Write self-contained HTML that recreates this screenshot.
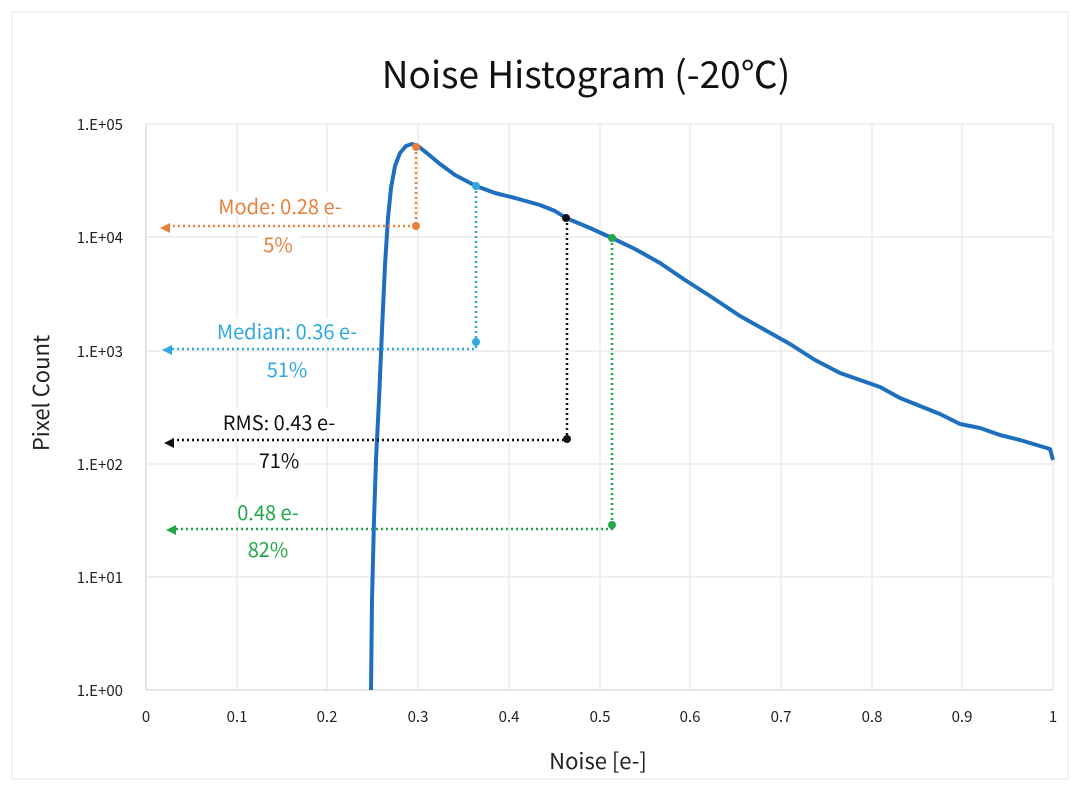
<!DOCTYPE html>
<html><head><meta charset="utf-8"><style>
html,body{margin:0;padding:0;background:#fff;}
svg{display:block;font-family:"Noto Sans CJK JP","Liberation Sans",sans-serif;}
</style></head><body>
<svg width="1080" height="791" viewBox="0 0 1080 791" xmlns="http://www.w3.org/2000/svg">
<rect x="12" y="12" width="1056" height="767" fill="#fff" stroke="#e4e4e4"/>
<text x="586" y="88" font-size="37" text-anchor="middle" fill="#111">Noise Histogram (-20℃)</text>
<g stroke="#e2e2e2" stroke-width="1">
<line x1="146" y1="124" x2="1053" y2="124"/><line x1="146" y1="237" x2="1053" y2="237"/>
<line x1="146" y1="351" x2="1053" y2="351"/><line x1="146" y1="464" x2="1053" y2="464"/>
<line x1="146" y1="577" x2="1053" y2="577"/>
<line x1="237" y1="124" x2="237" y2="690"/><line x1="327" y1="124" x2="327" y2="690"/>
<line x1="418" y1="124" x2="418" y2="690"/><line x1="509" y1="124" x2="509" y2="690"/>
<line x1="600" y1="124" x2="600" y2="690"/><line x1="690" y1="124" x2="690" y2="690"/>
<line x1="781" y1="124" x2="781" y2="690"/><line x1="872" y1="124" x2="872" y2="690"/>
<line x1="962" y1="124" x2="962" y2="690"/><line x1="1053" y1="124" x2="1053" y2="690"/>
</g>
<line x1="146" y1="124" x2="146" y2="690" stroke="#ccc"/>
<line x1="146" y1="690" x2="1053" y2="690" stroke="#ccc"/>
<g font-size="15" fill="#222" text-anchor="end">
<text x="123" y="130">1.E+05</text><text x="123" y="243">1.E+04</text><text x="123" y="357">1.E+03</text>
<text x="123" y="470">1.E+02</text><text x="123" y="583">1.E+01</text><text x="123" y="696">1.E+00</text>
</g>
<g font-size="15" fill="#222" text-anchor="middle">
<text x="146" y="722">0</text><text x="237" y="722">0.1</text><text x="327" y="722">0.2</text><text x="418" y="722">0.3</text>
<text x="509" y="722">0.4</text><text x="600" y="722">0.5</text><text x="690" y="722">0.6</text><text x="781" y="722">0.7</text>
<text x="872" y="722">0.8</text><text x="962" y="722">0.9</text><text x="1053" y="722">1</text>
</g>
<text x="598" y="769" font-size="22" text-anchor="middle" fill="#222">Noise [e-]</text>
<text transform="translate(49,393) rotate(-90)" font-size="22" text-anchor="middle" fill="#222">Pixel Count</text>
<g fill="#fff">
<rect x="205" y="192" width="150" height="24"/><rect x="258" y="232" width="42" height="22"/>
<rect x="205" y="318" width="160" height="24"/><rect x="262" y="357" width="50" height="22"/>
<rect x="213" y="408" width="132" height="24"/><rect x="255" y="448" width="50" height="22"/>
<rect x="230" y="498" width="76" height="24"/><rect x="243" y="537" width="50" height="22"/>
</g>
<path d="M371,690 L372,600 L374,520 L376,460 L379,400 L382,330 L385,265 L388,218 L391,188 L395,166 L400,153 L406,146 L412,144 L418,146 L428,154 L440,164 L455,175 L476,186 L495,193 L515,198 L540,205 L555,211 L566,218 L590,228 L612,238 L635,249 L660,263 L685,280 L710,296 L740,316 L765,330 L790,344 L815,360 L840,373 L860,380 L880,387 L900,398 L920,406 L940,414 L960,424 L980,428 L1000,435 L1020,440 L1040,446 L1050,449 L1053,460" fill="none" stroke="#1f6fbf" stroke-width="4" stroke-linejoin="round"/>
<g stroke-dasharray="2,3" stroke-width="2.5" fill="none">
<path d="M416,147 V226 H168" stroke="#e8803a"/>
<path d="M476,186 V344 L476,349 H170" stroke="#2fa8e0"/>
<path d="M567,218 V440 H172" stroke="#111"/>
<path d="M612,238 V525 L612,529 H174" stroke="#22a84a"/>
</g>
<path d="M160,228 l10,-5 v10 z" fill="#e8803a"/>
<path d="M162,350 l10,-5 v10 z" fill="#2fa8e0"/>
<path d="M164,443 l10,-5 v10 z" fill="#111"/>
<path d="M166,530 l10,-5 v10 z" fill="#22a84a"/>
<g>
<circle cx="416" cy="147" r="4" fill="#e8803a"/><circle cx="416" cy="226" r="4" fill="#e8803a"/>
<circle cx="476" cy="186" r="4" fill="#2fa8e0"/><circle cx="476" cy="342" r="4" fill="#2fa8e0"/>
<circle cx="566" cy="218" r="4" fill="#111"/><circle cx="567" cy="439" r="4" fill="#111"/>
<circle cx="612" cy="238" r="4" fill="#22a84a"/><circle cx="612" cy="525" r="4" fill="#22a84a"/>
</g>
<g font-size="20" text-anchor="middle">
<text x="280" y="214" fill="#e8803a">Mode: 0.28 e-</text><text x="278" y="252" fill="#e8803a">5%</text>
<text x="287" y="339" fill="#2fa8e0">Median: 0.36 e-</text><text x="287" y="377" fill="#2fa8e0">51%</text>
<text x="279" y="430" fill="#111">RMS: 0.43 e-</text><text x="279" y="468" fill="#111">71%</text>
<text x="268" y="520" fill="#22a84a">0.48 e-</text><text x="268" y="557" fill="#22a84a">82%</text>
</g>
</svg>
</body></html>
